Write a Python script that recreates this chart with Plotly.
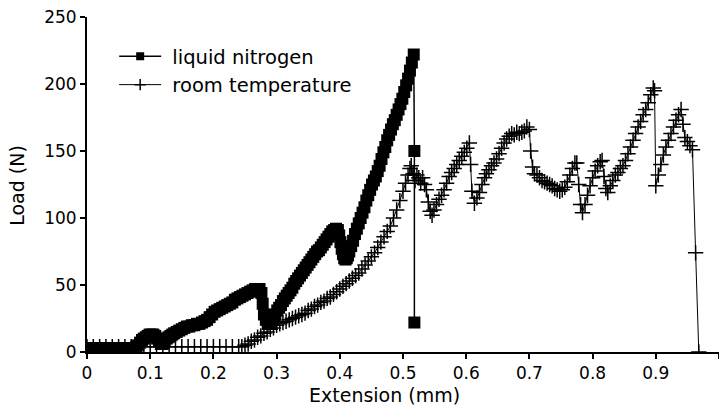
import plotly.graph_objects as go

# ---- data ----
ln_x = [0.000, 0.005, 0.010, 0.015, 0.020, 0.025, 0.030, 0.035, 0.040, 0.045,
        0.050, 0.055, 0.060, 0.065, 0.070, 0.075, 0.078, 0.081, 0.084, 0.087,
        0.090, 0.093, 0.096, 0.099, 0.102, 0.105, 0.108, 0.111, 0.114, 0.117,
        0.120, 0.123, 0.126, 0.129, 0.132, 0.135, 0.138, 0.142, 0.146, 0.150,
        0.154, 0.158, 0.162, 0.166, 0.170, 0.174, 0.178, 0.182, 0.186, 0.190,
        0.194, 0.198, 0.202, 0.206, 0.210, 0.214, 0.218, 0.222, 0.226, 0.230,
        0.234, 0.238, 0.242, 0.246, 0.250, 0.254, 0.258, 0.262, 0.266, 0.270,
        0.273, 0.276, 0.278, 0.280, 0.283, 0.286, 0.289, 0.292, 0.295, 0.298,
        0.301, 0.304, 0.307, 0.310, 0.313, 0.316, 0.319, 0.322, 0.325, 0.328,
        0.331, 0.334, 0.337, 0.340, 0.343, 0.346, 0.349, 0.352, 0.355, 0.358,
        0.361, 0.364, 0.367, 0.370, 0.373, 0.376, 0.379, 0.382, 0.385, 0.388,
        0.391, 0.394, 0.397, 0.399, 0.401, 0.403, 0.405, 0.407, 0.409, 0.411,
        0.413, 0.415, 0.418, 0.421, 0.424, 0.427, 0.430, 0.433, 0.436, 0.439,
        0.442, 0.445, 0.448, 0.451, 0.454, 0.457, 0.460, 0.463, 0.466, 0.469,
        0.472, 0.475, 0.478, 0.481, 0.484, 0.487, 0.490, 0.493, 0.496, 0.499,
        0.502, 0.505, 0.508, 0.511, 0.514, 0.517, 0.518, 0.518]
ln_y = [3, 3, 3, 3, 3, 3, 3, 3, 3, 3,
        3, 3, 3, 3, 3, 3, 4, 5, 7, 9,
        10, 11, 12, 13, 13, 13, 12, 10, 8, 6,
        6, 8, 10, 11, 12, 13, 14, 15, 16, 17,
        18, 19, 19, 20, 20, 21, 21, 22, 23, 24,
        26, 28, 30, 31, 32, 33, 34, 35, 36, 37,
        39, 40, 41, 42, 43, 44, 45, 46, 47, 47,
        47, 44, 36, 28, 24, 21, 21, 23, 26, 28,
        31, 33, 35, 38, 40, 42, 44, 46, 48, 51,
        53, 55, 57, 59, 61, 63, 65, 67, 69, 71,
        73, 75, 76, 78, 80, 82, 84, 86, 88, 90,
        91, 92, 91, 87, 82, 77, 73, 70, 69, 70,
        72, 75, 79, 83, 88, 92, 96, 100, 104, 108,
        113, 117, 121, 125, 128, 131, 135, 139, 144, 149,
        153, 158, 162, 166, 170, 173, 177, 181, 185, 189,
        194, 199, 204, 210, 216, 222, 150, 22]

rt_x = [0.00, 0.01, 0.02, 0.03, 0.04, 0.05, 0.06, 0.07, 0.08, 0.09,
        0.10, 0.11, 0.12, 0.13, 0.14, 0.15, 0.16, 0.17, 0.18, 0.19,
        0.20, 0.21, 0.22, 0.23, 0.24, 0.245,
        0.250, 0.255, 0.260, 0.265, 0.270, 0.275, 0.280, 0.285, 0.290, 0.295,
        0.300, 0.305, 0.310, 0.315, 0.320, 0.325, 0.330, 0.335, 0.340, 0.345,
        0.350, 0.355, 0.360, 0.365, 0.370, 0.375, 0.380, 0.385, 0.390, 0.395,
        0.400, 0.405, 0.410, 0.415, 0.420, 0.425, 0.430, 0.435, 0.440, 0.445,
        0.450, 0.455, 0.460, 0.465, 0.470, 0.475, 0.480, 0.485, 0.490, 0.495,
        0.500, 0.504, 0.508, 0.511, 0.513, 0.516, 0.519, 0.522, 0.525, 0.528,
        0.531, 0.534, 0.537, 0.540, 0.543, 0.546, 0.549, 0.553, 0.557, 0.561,
        0.565, 0.569, 0.573, 0.577, 0.581, 0.585, 0.589, 0.593, 0.597, 0.601,
        0.605, 0.607, 0.609, 0.613, 0.617, 0.621, 0.625, 0.629, 0.632, 0.636,
        0.640, 0.644, 0.648, 0.652, 0.656, 0.660, 0.664, 0.668, 0.672, 0.676,
        0.680, 0.684, 0.688, 0.692, 0.696, 0.700, 0.702, 0.705, 0.708, 0.712,
        0.716, 0.720, 0.724, 0.728, 0.732, 0.736, 0.740, 0.744, 0.748, 0.752,
        0.756, 0.760, 0.764, 0.768, 0.772, 0.775, 0.778, 0.781, 0.784, 0.788,
        0.792, 0.796, 0.800, 0.804, 0.808, 0.812, 0.815, 0.818, 0.821, 0.824,
        0.828, 0.832, 0.836, 0.840, 0.844, 0.848, 0.852, 0.856, 0.860, 0.864,
        0.868, 0.872, 0.876, 0.880, 0.884, 0.888, 0.892, 0.896, 0.898, 0.900,
        0.904, 0.908, 0.912, 0.916, 0.920, 0.924, 0.928, 0.932, 0.936, 0.940,
        0.943, 0.946, 0.950, 0.954, 0.958, 0.963, 0.968]
rt_y = [4, 4, 4, 4, 4, 4, 4, 4, 4, 4,
        4, 4, 4, 4, 4, 4, 4, 4, 4, 4,
        4, 4, 4, 4, 4, 4,
        5, 6, 8, 9, 11, 12, 14, 15, 17, 18,
        20, 21, 22, 23, 24, 25, 26, 27, 28, 29,
        31, 32, 34, 35, 37, 38, 40, 41, 43, 45,
        47, 49, 51, 53, 55, 57, 59, 62, 65, 68,
        71, 74, 78, 82, 86, 90, 94, 100, 106, 113,
        120, 126, 132, 137, 139, 133, 128, 132, 130, 126,
        130, 125, 121, 112, 105, 102, 106, 110, 114, 117,
        121, 126, 131, 134, 137, 140, 143, 146, 149, 152,
        156, 140, 120, 111, 115, 119, 125, 130, 133, 136,
        139, 141, 144, 148, 152, 156, 159, 161, 163, 162,
        164, 163, 164, 165, 168, 166, 150, 138, 133, 132,
        130, 128, 127, 126, 125, 124, 122, 121, 120, 121,
        123, 127, 132, 137, 141, 141, 125, 110, 104, 110,
        117, 124, 130, 135, 139, 142, 143, 131, 122, 119,
        124, 128, 132, 134, 137, 139, 143, 148, 153, 158,
        163, 168, 172, 177, 181, 186, 192, 197, 195, 124,
        132, 140, 147, 153, 158, 163, 168, 173, 177, 181,
        170, 160, 157, 154, 151, 74, 0]

x_ticks = [0, 0.1, 0.2, 0.3, 0.4, 0.5, 0.6, 0.7, 0.8, 0.9, 1.0]
x_tick_text = ["0", "0.1", "0.2", "0.3", "0.4", "0.5", "0.6", "0.7", "0.8", "0.9", "1"]
y_ticks = [0, 50, 100, 150, 200, 250]

FONT = "DejaVu Sans"
NB = "\u00a0"

fig = go.Figure()
# data traces
fig.add_trace(go.Scatter(
    x=ln_x, y=ln_y, mode="lines+markers", showlegend=False,
    line=dict(color="black", width=1.5),
    marker=dict(symbol="square", size=12, color="black"),
))
fig.add_trace(go.Scatter(
    x=rt_x, y=rt_y, mode="lines+markers", showlegend=False,
    line=dict(color="black", width=1),
    marker=dict(symbol="cross-thin", size=11, color="black",
                line=dict(color="black", width=1.5)),
))
# legend-only entries (smaller symbols, as in the reference legend)
fig.add_trace(go.Scatter(
    x=[None], y=[None], mode="lines+markers", name=NB + "liquid nitrogen",
    line=dict(color="black", width=1.5),
    marker=dict(symbol="square", size=8, color="black"),
))
fig.add_trace(go.Scatter(
    x=[None], y=[None], mode="lines+markers", name=NB + "room temperature",
    line=dict(color="black", width=1),
    marker=dict(symbol="cross-thin", size=8, color="black",
                line=dict(color="black", width=1.5)),
))

axis_common = dict(
    showline=True, linecolor="black", linewidth=2,
    ticks="outside", ticklen=5, tickwidth=1.5, tickcolor="black",
    tickfont=dict(family=FONT, size=17, color="black"),
    showgrid=False, zeroline=False,
)
fig.update_xaxes(range=[0, 1], tickvals=x_ticks, ticktext=x_tick_text, **axis_common)
fig.update_yaxes(range=[0, 250], tickvals=y_ticks, **axis_common)

fig.update_layout(
    width=719, height=406,
    margin=dict(l=87, r=0, t=17, b=54),
    paper_bgcolor="white", plot_bgcolor="white",
    showlegend=True,
    legend=dict(x=0.043, y=0.94, xanchor="left", yanchor="top",
                bgcolor="rgba(0,0,0,0)", font=dict(family=FONT, size=19.5, color="black"),
                tracegroupgap=0, itemwidth=42),
    annotations=[
        dict(text="Extension (mm)", xref="paper", yref="paper", x=0.4715, y=-0.128,
             xanchor="center", yanchor="middle", showarrow=False,
             font=dict(family=FONT, size=19, color="black")),
        dict(text="Load (N)", xref="paper", yref="paper", x=-0.111, y=0.4985,
             xanchor="center", yanchor="middle", showarrow=False, textangle=-90,
             font=dict(family=FONT, size=19, color="black")),
    ],
)

fig.write_html("out.html")
